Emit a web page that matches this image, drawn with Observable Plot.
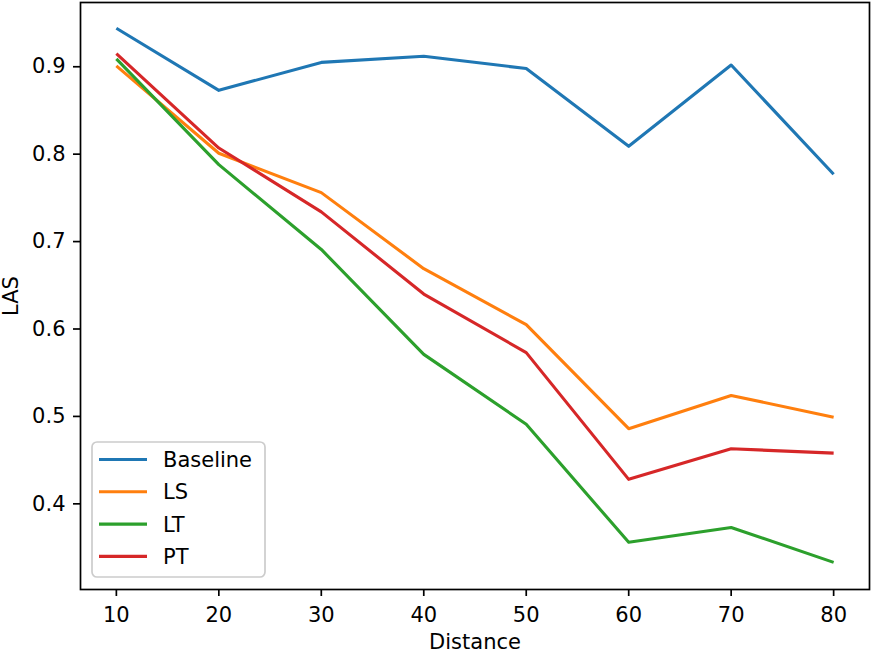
<!DOCTYPE html>
<html><head><meta charset="utf-8">
<script src="https://cdn.jsdelivr.net/npm/d3@7"></script>
<script src="https://cdn.jsdelivr.net/npm/@observablehq/plot@0.6"></script>
<style>body{margin:0;background:#fff} svg{display:block}</style>
</head><body><div id="chart"></div>
<script>
const distances = [10, 20, 30, 40, 50, 60, 70, 80];
const baseline = [0.944, 0.873, 0.905, 0.912, 0.898, 0.809, 0.902, 0.777];
const ls       = [0.901, 0.801, 0.756, 0.669, 0.605, 0.486, 0.524, 0.499];
const lt       = [0.909, 0.788, 0.691, 0.571, 0.491, 0.356, 0.373, 0.333];
const pt       = [0.915, 0.807, 0.734, 0.640, 0.573, 0.428, 0.463, 0.458];
const seriesNames = ["Baseline", "LS", "LT", "PT"];
const seriesValues = [baseline, ls, lt, pt];
const colors = ["#1f77b4", "#ff7f0e", "#2ca02c", "#d62728"];
const yTicks = [0.4, 0.5, 0.6, 0.7, 0.8, 0.9];

const data = seriesNames.flatMap((name, i) =>
  distances.map((d, j) => ({series: name, distance: d, value: seriesValues[i][j]})));

const fs = 21;
const plot = Plot.plot({
  width: 872, height: 653,
  marginLeft: 80, marginRight: 3, marginTop: 2, marginBottom: 64,
  style: {fontFamily: "DejaVu Sans", fontSize: fs + "px", background: "white", color: "black"},
  x: {domain: [6.5, 83.5]},
  y: {domain: [0.302, 0.9735]},
  color: {domain: seriesNames, range: colors},
  marks: [
    Plot.line(data, {x: "distance", y: "value", z: "series", stroke: "series", strokeWidth: 3.1, strokeLinejoin: "round", strokeLinecap: "butt"}),
    Plot.axisX({ticks: distances, tickSize: 7, tickPadding: 11, strokeWidth: 1.7, label: "Distance", labelAnchor: "center", labelArrow: false, labelOffset: 59, fontSize: fs}),
    Plot.axisY({ticks: yTicks, tickSize: 7, tickPadding: 8, strokeWidth: 1.7, tickFormat: d3.format(".1f"), label: "LAS", labelAnchor: "center", labelArrow: false, labelOffset: 77, fontSize: fs}),
    Plot.frame({stroke: "black", strokeWidth: 1.7})
  ]
});
document.getElementById("chart").appendChild(plot);

// legend
const svg = d3.select(plot);
const lg = svg.append("g").attr("font-family", "DejaVu Sans").attr("font-size", fs).attr("text-anchor", "start");
lg.append("rect").attr("x", 92).attr("y", 442).attr("width", 173).attr("height", 135)
  .attr("rx", 5).attr("fill", "white").attr("fill-opacity", 0.8).attr("stroke", "#cccccc").attr("stroke-width", 1.7);
seriesNames.forEach((name, i) => {
  const y = 459.5 + i * 32.3;
  lg.append("line").attr("x1", 99).attr("x2", 147).attr("y1", y).attr("y2", y)
    .attr("stroke", colors[i]).attr("stroke-width", 3.1);
  lg.append("text").attr("x", 163).attr("y", y).attr("dy", "0.36em").attr("text-anchor", "start").attr("fill", "black").text(name);
});
</script>
</body></html>
